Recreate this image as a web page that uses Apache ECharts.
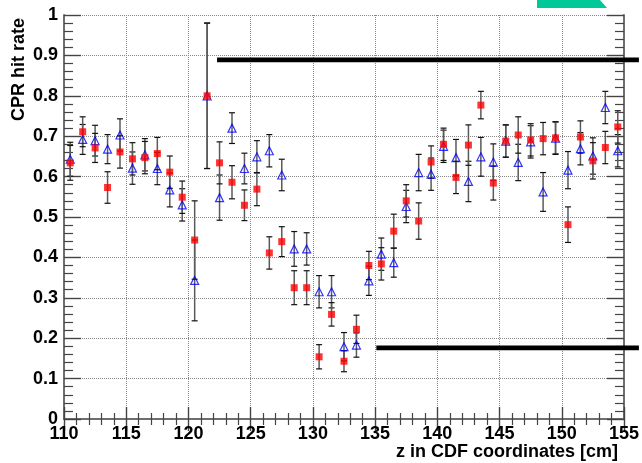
<!DOCTYPE html>
<html>
<head>
<meta charset="utf-8">
<script src="https://cdn.jsdelivr.net/npm/echarts@6/dist/echarts.min.js"></script>
<style>
  html, body { margin: 0; padding: 0; background: #fff; }
  #chart { width: 642px; height: 463px; }
</style>
</head>
<body>
<div id="chart"></div>
<script>
// bin centres (cm)
var zBins = [110.5,111.5,112.5,113.5,114.5,115.5,116.5,117.5,118.5,119.5,
             120.5,121.5,122.5,123.5,124.5,125.5,126.5,127.5,128.5,129.5,
             130.5,131.5,132.5,133.5,134.5,135.5,136.5,137.5,138.5,139.5,
             140.5,141.5,142.5,143.5,144.5,145.5,146.5,147.5,148.5,149.5,
             150.5,151.5,152.5,153.5,154.5];

// red squares
var redRate = [0.634,0.711,0.671,0.573,0.661,0.644,0.647,0.657,0.611,0.549,
               0.443,0.800,0.634,0.586,0.529,0.569,0.411,0.439,0.325,0.325,
               0.154,0.259,0.143,0.222,0.380,0.384,0.465,0.540,0.490,0.636,
               0.680,0.598,0.678,0.777,0.584,0.688,0.703,0.691,0.694,0.696,
               0.481,0.698,0.639,0.672,0.723];
var redErr  = [0.043,0.037,0.036,0.039,0.040,0.040,0.040,0.040,0.040,0.040,
               0.097,0.180,0.052,0.041,0.038,0.041,0.040,0.037,0.042,0.042,
               0.030,0.029,0.026,0.035,0.035,0.040,0.042,0.040,0.045,0.040,
               0.040,0.040,0.050,0.034,0.042,0.040,0.045,0.040,0.040,0.040,
               0.044,0.040,0.045,0.040,0.040];

// blue open triangles
var blueRate = [0.643,0.692,0.689,0.668,0.703,0.621,0.654,0.620,0.567,0.530,
                0.343,0.800,0.548,0.720,0.620,0.649,0.664,0.604,0.421,0.421,
                0.315,0.315,0.179,0.183,0.342,0.408,0.387,0.526,0.610,0.606,
                0.675,0.647,0.588,0.649,0.636,0.688,0.635,0.686,0.562,0.695,
                0.616,0.669,0.651,0.771,0.664];
var blueErr  = [0.042,0.037,0.038,0.036,0.040,0.040,0.040,0.040,0.042,0.040,
                0.100,0.180,0.056,0.038,0.038,0.040,0.040,0.039,0.043,0.040,
                0.040,0.040,0.035,0.030,0.036,0.040,0.036,0.040,0.045,0.040,
                0.040,0.045,0.050,0.048,0.045,0.040,0.045,0.040,0.048,0.040,
                0.046,0.040,0.045,0.040,0.040];

// thick black reference bars: [zStart, zEnd, rate]
var refBars = [[122.3, 156.2, 0.889], [135.1, 156.2, 0.176]];

function errData(rate, err) {
  return zBins.map(function (z, i) { return [z, rate[i] - err[i], rate[i] + err[i]]; });
}
function ptData(rate) {
  return zBins.map(function (z, i) { return [z, rate[i]]; });
}

function renderErr(params, api) {
  var x = api.value(0);
  var top = api.coord([x, api.value(2)]);
  var bot = api.coord([x, api.value(1)]);
  var c = 3;
  return {
    type: 'group',
    children: [
      { type: 'line', shape: { x1: top[0], y1: top[1], x2: bot[0], y2: bot[1] },
        style: { stroke: '#5a5a5a', lineWidth: 1.5 } },
      { type: 'line', shape: { x1: top[0] - c, y1: top[1], x2: top[0] + c, y2: top[1] },
        style: { stroke: '#111', lineWidth: 1.2 } },
      { type: 'line', shape: { x1: bot[0] - c, y1: bot[1], x2: bot[0] + c, y2: bot[1] },
        style: { stroke: '#111', lineWidth: 1.2 } }
    ]
  };
}

function renderBar(params, api) {
  var a = api.coord([api.value(0), api.value(2)]);
  var b = api.coord([api.value(1), api.value(2)]);
  return { type: 'rect', shape: { x: a[0], y: a[1] - 2.3, width: b[0] - a[0], height: 4.6 },
           style: { fill: '#000' } };
}

var chart = echarts.init(document.getElementById('chart'));
var lbl = { fontFamily: 'Liberation Sans', fontWeight: 'bold', fontSize: 18, color: '#000' };
var frame = { show: true, lineStyle: { color: '#6e6e6e', width: 2 } };
var grid = { show: true, lineStyle: { color: '#888', type: 'dotted', width: 1 } };

chart.setOption({
  animation: false,
  grid: { left: 64, right: 14, top: 15, bottom: 44 },
  xAxis: [
    { type: 'value', min: 110, max: 155, interval: 5, position: 'bottom',
      axisLine: frame, splitLine: grid,
      axisTick: { inside: true, length: 12, lineStyle: { color: '#444', width: 1.4 } },
      minorTick: { show: true, splitNumber: 5, length: 6, lineStyle: { color: '#444', width: 1.2 } },
      axisLabel: Object.assign({ margin: 6 }, lbl) },
    { type: 'value', min: 110, max: 155, interval: 5, position: 'top',
      axisLine: frame, splitLine: { show: false },
      axisTick: { inside: true, length: 12, lineStyle: { color: '#444', width: 1.4 } },
      minorTick: { show: true, splitNumber: 5, length: 6, lineStyle: { color: '#444', width: 1.2 } },
      axisLabel: { show: false } }
  ],
  yAxis: [
    { type: 'value', min: 0, max: 1, interval: 0.1, position: 'left',
      axisLine: frame, splitLine: grid,
      axisTick: { inside: true, length: 17, lineStyle: { color: '#444', width: 1.4 } },
      minorTick: { show: true, splitNumber: 5, length: 9, lineStyle: { color: '#444', width: 1.2 } },
      axisLabel: Object.assign({ margin: 6 }, lbl) },
    { type: 'value', min: 0, max: 1, interval: 0.1, position: 'right',
      axisLine: frame, splitLine: { show: false },
      axisTick: { inside: true, length: 17, lineStyle: { color: '#444', width: 1.4 } },
      minorTick: { show: true, splitNumber: 5, length: 9, lineStyle: { color: '#444', width: 1.2 } },
      axisLabel: { show: false } }
  ],
  graphic: [
    { type: 'text', left: 396, top: 443,
      style: { text: 'z in CDF coordinates [cm]', font: 'bold 18px "Liberation Sans"', fill: '#000' } },
    { type: 'text', x: 10, y: 121, rotation: Math.PI / 2,
      style: { text: 'CPR hit rate', font: 'bold 18px "Liberation Sans"', fill: '#000' } },
    { type: 'polygon', shape: { points: [[537, 0], [600, 0], [607, 8], [537, 8]] },
      style: { fill: '#00c896' } }
  ],
  series: [
    { type: 'custom', name: 'blueErr', renderItem: renderErr, data: errData(blueRate, blueErr), z: 2 },
    { type: 'custom', name: 'redErr', renderItem: renderErr, data: errData(redRate, redErr), z: 2 },
    { type: 'scatter', name: 'blue', data: ptData(blueRate), symbol: 'triangle', symbolSize: 8,
      itemStyle: { color: 'rgba(255,255,255,0)', borderColor: '#0000ff', borderWidth: 1.2 }, z: 3 },
    { type: 'scatter', name: 'red', data: ptData(redRate), symbol: 'rect', symbolSize: 7,
      itemStyle: { color: '#ff0000' }, z: 4 },
    { type: 'custom', name: 'refBars', renderItem: renderBar, data: refBars, clip: false, z: 5 }
  ]
});
</script>
</body>
</html>
